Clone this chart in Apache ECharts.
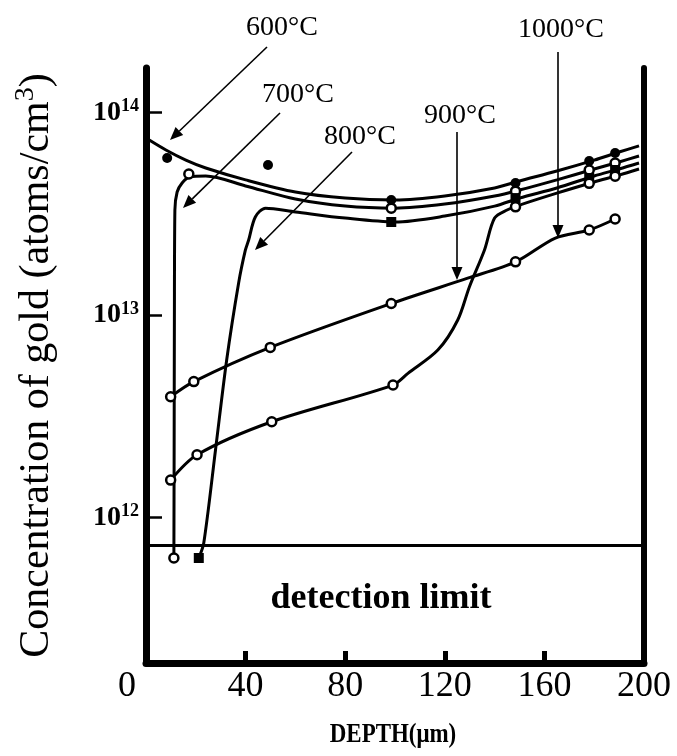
<!DOCTYPE html>
<html><head><meta charset="utf-8">
<script src="https://cdn.jsdelivr.net/npm/echarts@6/dist/echarts.min.js"></script>
<style>html,body{margin:0;padding:0;background:#fff}#c{width:677px;height:756px}</style>
</head><body><div id="c"></div>
<script>
// ---- data (depth in um, concentration in atoms/cm^3) ----
const depthTicks = [0, 40, 80, 120, 160, 200];
const concTicks = [1e12, 1e13, 1e14];
const detectionLimit = 7.3e11;
const tempLabels = ['600°C', '700°C', '800°C', '900°C', '1000°C'];

const curve600 = [[0,7.48e13],[8,6.53e13],[16,5.82e13],[24,5.32e13],[40,4.65e13],[60,4.05e13],[80,3.78e13],[100,3.70e13],[120,3.87e13],[140,4.24e13],[150,4.59e13],[165,5.14e13],[180,5.82e13],[190,6.38e13],[198,6.84e13]];
const points600 = [[8.5,5.96e13],[49,5.51e13],[98.5,3.70e13],[148.4,4.49e13],[178,5.76e13],[188.4,6.31e13]];

const curve700 = [[11.2,6.31e11],[11.3,2.15e12],[11.4,9.45e12],[11.6,3.30e13],[12.5,4.05e13],[14.5,4.49e13],[17.5,4.80e13],[24,4.86e13],[40,4.34e13],[60,3.74e13],[80,3.45e13],[100,3.37e13],[120,3.53e13],[140,3.87e13],[150,4.14e13],[165,4.65e13],[180,5.26e13],[190,5.70e13],[198,6.10e13]];
const points700 = [[11.2,6.31e11],[17.2,4.97e13],[98.5,3.37e13],[148.4,4.09e13],[178,5.20e13],[188.4,5.63e13]];

const curve800 = [[21.2,6.31e11],[23.2,7.48e11],[27.9,2.15e12],[32.4,6.00e12],[37.2,1.44e13],[39.9,2.09e13],[41.2,2.34e13],[43.9,3.05e13],[48,3.37e13],[60,3.23e13],[80,3.01e13],[100,2.88e13],[120,3.08e13],[140,3.45e13],[150,3.78e13],[165,4.24e13],[180,4.86e13],[190,5.26e13],[198,5.63e13]];
const points800 = [[21.2,6.31e11],[98.5,2.88e13],[148.4,3.78e13],[178,4.75e13],[188.4,5.20e13]];

const curve900 = [[9.9,1.53e12],[20.5,2.04e12],[50.5,2.97e12],[99.2,4.51e12],[105.2,5.15e12],[117.2,6.71e12],[125.2,9.45e12],[129.9,1.38e13],[135.9,2.09e13],[140,3.01e13],[145,3.30e13],[150,3.49e13],[165,4.00e13],[180,4.54e13],[190,4.91e13],[198,5.26e13]];
const points900 = [[9.9,1.53e12],[20.5,2.04e12],[50.5,2.97e12],[99.2,4.51e12],[148.4,3.42e13],[178,4.47e13],[188.4,4.85e13]];

const curve1000 = [[9.9,3.95e12],[19.2,4.69e12],[49.9,6.92e12],[98.5,1.14e13],[129.2,1.52e13],[148.4,1.83e13],[164.4,2.40e13],[178,2.63e13],[188.4,2.98e13]];
const points1000 = [[9.9,3.95e12],[19.2,4.69e12],[49.9,6.92e12],[98.5,1.14e13],[148.4,1.83e13],[178,2.63e13],[188.4,2.98e13]];

// ---- chart ----
const FONT = 'Liberation Serif';
const Y_MIN = 1.912e11, Y_MAX = 1.659e14;
const chart = echarts.init(document.getElementById('c'), null, {renderer: 'canvas'});

function lineSeries(name, data) {
  return {name: name, type: 'line', data: data, symbol: 'none', smooth: 0.3,
    lineStyle: {color: '#000', width: 3}, z: 3, silent: true};
}
function pointSeries(name, data, symbol, filled) {
  return {name: name, type: 'scatter', data: data, symbol: symbol, symbolSize: filled ? 10 : 9,
    itemStyle: {color: filled ? '#000' : '#fff', borderColor: '#000', borderWidth: filled ? 0 : 2.5, opacity: 1},
    z: 4, silent: true};
}

// annotation arrows (layout, in pixels)
const notes = [
  {t: tempLabels[0], lx: 282, ly: 28, x1: 267, y1: 47, x2: 170, y2: 140},
  {t: tempLabels[1], lx: 298, ly: 95, x1: 280, y1: 113, x2: 183, y2: 208},
  {t: tempLabels[2], lx: 360, ly: 137, x1: 352, y1: 152, x2: 255, y2: 250},
  {t: tempLabels[3], lx: 460, ly: 116, x1: 457, y1: 132, x2: 457, y2: 280},
  {t: tempLabels[4], lx: 561, ly: 30, x1: 558, y1: 52, x2: 558, y2: 238}
];
const graphics = [];
notes.forEach(n => {
  const dx = n.x2 - n.x1, dy = n.y2 - n.y1, L = Math.hypot(dx, dy);
  const ux = dx / L, uy = dy / L, px = -uy, py = ux;
  const hl = 13, hw = 5.5;
  const bx = n.x2 - ux * hl, by = n.y2 - uy * hl;
  graphics.push({type: 'line', shape: {x1: n.x1, y1: n.y1, x2: bx, y2: by},
    style: {stroke: '#000', lineWidth: 1.6}, z: 10});
  graphics.push({type: 'polygon', shape: {points: [[n.x2, n.y2], [bx + px * hw, by + py * hw], [bx - px * hw, by - py * hw]]},
    style: {fill: '#000'}, z: 10});
  graphics.push({type: 'text', x: n.lx, y: n.ly,
    style: {text: n.t, font: '28px "' + FONT + '"', fill: '#000', textAlign: 'center', textVerticalAlign: 'middle'}, z: 10});
});
graphics.push({type: 'text', x: 381, y: 599,
  style: {text: 'detection limit', font: 'bold 36px "' + FONT + '"', fill: '#000', textAlign: 'center', textVerticalAlign: 'middle'}, z: 10});
graphics.push({type: 'text', x: 393, y: 735, scaleX: 0.82,
  style: {text: 'DEPTH(μm)', font: 'bold 28px "' + FONT + '"', fill: '#000', textAlign: 'center', textVerticalAlign: 'middle'}, z: 10});

const option = {
  animation: false,
  backgroundColor: '#fff',
  grid: {left: 146, right: 33, top: 68, bottom: 93, containLabel: false, outerBoundsMode: 'none'},
  xAxis: {
    type: 'value', min: depthTicks[0], max: depthTicks[depthTicks.length - 1], interval: 40,
    axisLine: {show: true, onZero: false, lineStyle: {color: '#000', width: 7}},
    axisTick: {show: true, inside: true, length: 12, lineStyle: {color: '#000', width: 5}},
    axisLabel: {color: '#000', fontFamily: FONT, fontSize: 36, margin: 6,
      formatter: v => v === 0 ? '{zero|0}' : String(v),
      rich: {zero: {fontFamily: FONT, fontSize: 36, color: '#000', padding: [0, 38, 0, 0]}}},
    splitLine: {show: false}
  },
  yAxis: [{
    type: 'log', logBase: 10, min: Y_MIN, max: Y_MAX,
    axisLine: {show: true, lineStyle: {color: '#000', width: 7}},
    axisTick: {show: true, inside: true, length: 16, customValues: concTicks, lineStyle: {color: '#000', width: 2.5}},
    axisLabel: {customValues: concTicks, margin: 7, color: '#000',
      formatter: v => '{b|10}{s|' + Math.round(Math.log10(v)) + '}',
      rich: {b: {fontFamily: FONT, fontWeight: 'bold', fontSize: 28, color: '#000'},
             s: {fontFamily: FONT, fontWeight: 'bold', fontSize: 18, color: '#000', verticalAlign: 'top', padding: [0, 0, 12, 0]}}},
    splitLine: {show: false},
    name: 'Concentration of gold (atoms/cm{s|3})', nameLocation: 'middle', nameRotate: 90, nameGap: 84,
    nameTextStyle: {fontFamily: FONT, fontSize: 42, color: '#000', lineHeight: 50,
      rich: {s: {fontFamily: FONT, fontSize: 28, color: '#000', verticalAlign: 'top', lineHeight: 50}}}
  }, {
    type: 'log', logBase: 10, min: Y_MIN, max: Y_MAX, position: 'right',
    axisLine: {show: true, lineStyle: {color: '#000', width: 6}},
    axisTick: {show: false}, axisLabel: {show: false}, splitLine: {show: false}
  }],
  graphic: graphics,
  series: [
    Object.assign(lineSeries(tempLabels[0], curve600), {
      markLine: {silent: true, symbol: 'none', label: {show: false},
        lineStyle: {color: '#000', width: 3, type: 'solid'}, data: [{yAxis: detectionLimit}]}
    }),
    lineSeries(tempLabels[1], curve700),
    lineSeries(tempLabels[2], curve800),
    lineSeries(tempLabels[3], curve900),
    lineSeries(tempLabels[4], curve1000),
    pointSeries(tempLabels[0] + ' data', points600, 'circle', true),
    pointSeries(tempLabels[1] + ' data', points700, 'circle', false),
    pointSeries(tempLabels[2] + ' data', points800, 'rect', true),
    pointSeries(tempLabels[3] + ' data', points900, 'circle', false),
    pointSeries(tempLabels[4] + ' data', points1000, 'circle', false)
  ]
};
chart.setOption(option);
</script></body></html>
